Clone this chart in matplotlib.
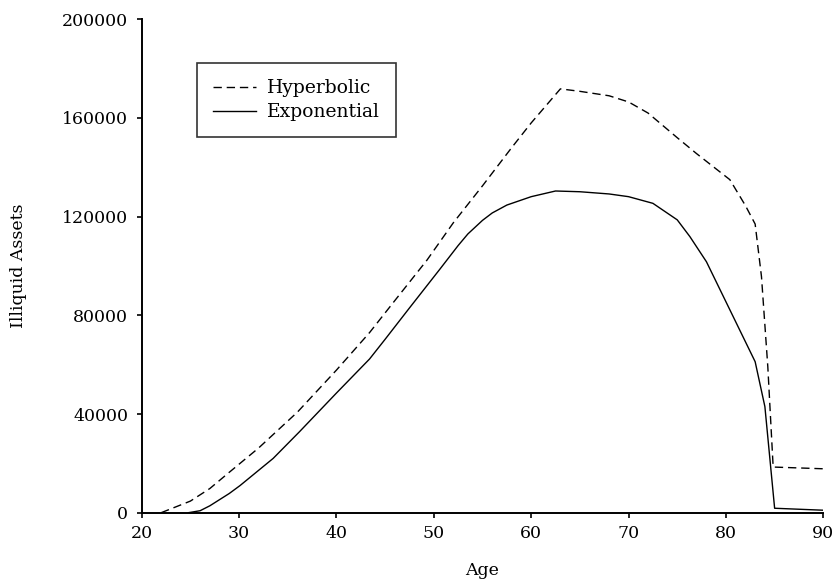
import matplotlib
matplotlib.use("Agg")
import matplotlib.pyplot as plt

# Data
ages_hyperbolic = [22, 25, 27, 29, 32, 36, 40, 43.4, 46, 49.3, 52, 55, 58, 60, 62.5, 63,
                   65, 68, 70, 72, 75, 77, 80.4, 82, 83, 83.65, 84.3, 84.85, 90]
assets_hyperbolic = [0, 4700, 9800, 16400, 26200, 40800, 57800, 73000, 86000, 102400,
                     117500, 132500, 148000, 158000, 169500, 171800, 170800, 169000,
                     166500, 162000, 152000, 145500, 135000, 124500, 117000, 95700,
                     59200, 18500, 17800]

ages_exponential = [24.8, 26, 27, 29, 30.1, 33.5, 36.2, 40, 43.4, 45, 47.5, 50.6, 52.5,
                    53.5, 55, 56, 57.5, 60, 62.5, 65, 68, 70, 72.5, 75, 76.3, 78, 83,
                    84, 85, 90]
assets_exponential = [0, 800, 2800, 7800, 11000, 22000, 32800, 48500, 62300, 70300,
                      83000, 98600, 108300, 113000, 118500, 121500, 124700, 128100,
                      130400, 130100, 129200, 128100, 125400, 118700, 111900, 101700,
                      61200, 43000, 1800, 1000]

x_ticks = [20, 30, 40, 50, 60, 70, 80, 90]
y_ticks = [0, 40000, 80000, 120000, 160000, 200000]

plt.rcParams['font.family'] = ['DejaVu Serif']
FS = 12.5

fig = plt.figure(figsize=(8.35, 5.83), dpi=100)
ax = fig.add_axes([0.1697, 0.1206, 0.8163, 0.8463])

ax.plot(ages_hyperbolic, assets_hyperbolic, color='black', lw=1.0,
        linestyle=(0, (6, 3.5)), label='Hyperbolic')
ax.plot(ages_exponential, assets_exponential, color='black', lw=1.0,
        linestyle='-', label='Exponential')

ax.set_xlim(20, 90)
ax.set_ylim(0, 200000)
ax.set_xticks(x_ticks)
ax.set_yticks(y_ticks)
ax.set_xticklabels([str(t) for t in x_ticks])
ax.set_yticklabels([str(t) for t in y_ticks])

for s in ['top', 'right']:
    ax.spines[s].set_visible(False)
for s in ['left', 'bottom']:
    ax.spines[s].set_linewidth(1.4)
ax.tick_params(direction='out', length=3.6, width=1.2, labelsize=FS)
ax.tick_params(axis='x', pad=5)
ax.tick_params(axis='y', pad=6)

ax.set_xlabel('Age', fontsize=FS)
ax.set_ylabel('Illiquid Assets', fontsize=FS)
ax.xaxis.set_label_coords(0.5, -0.10)
ax.yaxis.set_label_coords(-0.168, 0.5)

leg = ax.legend(loc='upper left', bbox_to_anchor=(196.7 / 835, 1 - 63.3 / 583),
                bbox_transform=fig.transFigure, frameon=True, fancybox=False,
                edgecolor='black', handlelength=2.3, fontsize=13.5,
                borderpad=0.85, labelspacing=0.32, handletextpad=0.6, borderaxespad=0)
leg.get_frame().set_linewidth(1.2)

fig.savefig('out.png', dpi=100)
